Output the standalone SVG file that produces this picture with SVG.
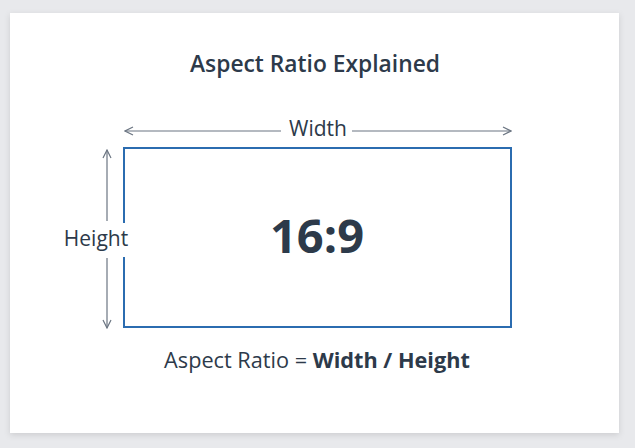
<svg xmlns="http://www.w3.org/2000/svg" width="635" height="448" viewBox="0 0 635 448">
<defs>
<filter id="sh" x="-10%" y="-10%" width="120%" height="120%">
<feDropShadow dx="0" dy="2" stdDeviation="3" flood-color="#000" flood-opacity="0.12"/>
</filter>
<marker id="ah" viewBox="0 0 10 10" refX="9" refY="5" markerWidth="10" markerHeight="10" markerUnits="userSpaceOnUse" orient="auto-start-reverse">
<path d="M1,1 L9,5 L1,9" fill="none" stroke="#6b7582" stroke-width="1.2"/>
</marker>
<style>
text{font-family:"Open Sans","Noto Sans",sans-serif;fill:#2d3a4a}
.dim{stroke:#6b7582;stroke-width:1.2;fill:none}
.lbl{font-size:21px;text-anchor:middle}
</style>
</defs>
<rect width="635" height="448" fill="#e8e9ec"/>
<rect x="10" y="13" width="609" height="420" fill="#ffffff" filter="url(#sh)"/>
<text x="315" y="72" font-size="22.8" font-weight="600" text-anchor="middle">Aspect Ratio Explained</text>
<g id="screen">
<rect x="124" y="148" width="387" height="179" fill="none" stroke="#2b6cb0" stroke-width="2"/>
<text x="317" y="253" font-size="47" font-weight="700" text-anchor="middle">16:9</text>
</g>
<g id="connectors">
<line class="dim" x1="281" y1="131" x2="125" y2="131" marker-end="url(#ah)"/>
<line class="dim" x1="352" y1="131" x2="511" y2="131" marker-end="url(#ah)"/>
<line class="dim" x1="107" y1="221" x2="107" y2="150" marker-end="url(#ah)"/>
<line class="dim" x1="107" y1="258" x2="107" y2="328" marker-end="url(#ah)"/>
</g>
<g id="width-label">
<text class="lbl" x="318" y="136">Width</text>
</g>
<g id="height-label">
<rect x="63" y="223" width="68" height="34" fill="#ffffff"/>
<text class="lbl" x="96" y="246">Height</text>
</g>
<g id="formula">
<text x="317" y="368" font-size="21.7" text-anchor="middle">Aspect Ratio = <tspan font-weight="700">Width / Height</tspan></text>
</g>
</svg>
